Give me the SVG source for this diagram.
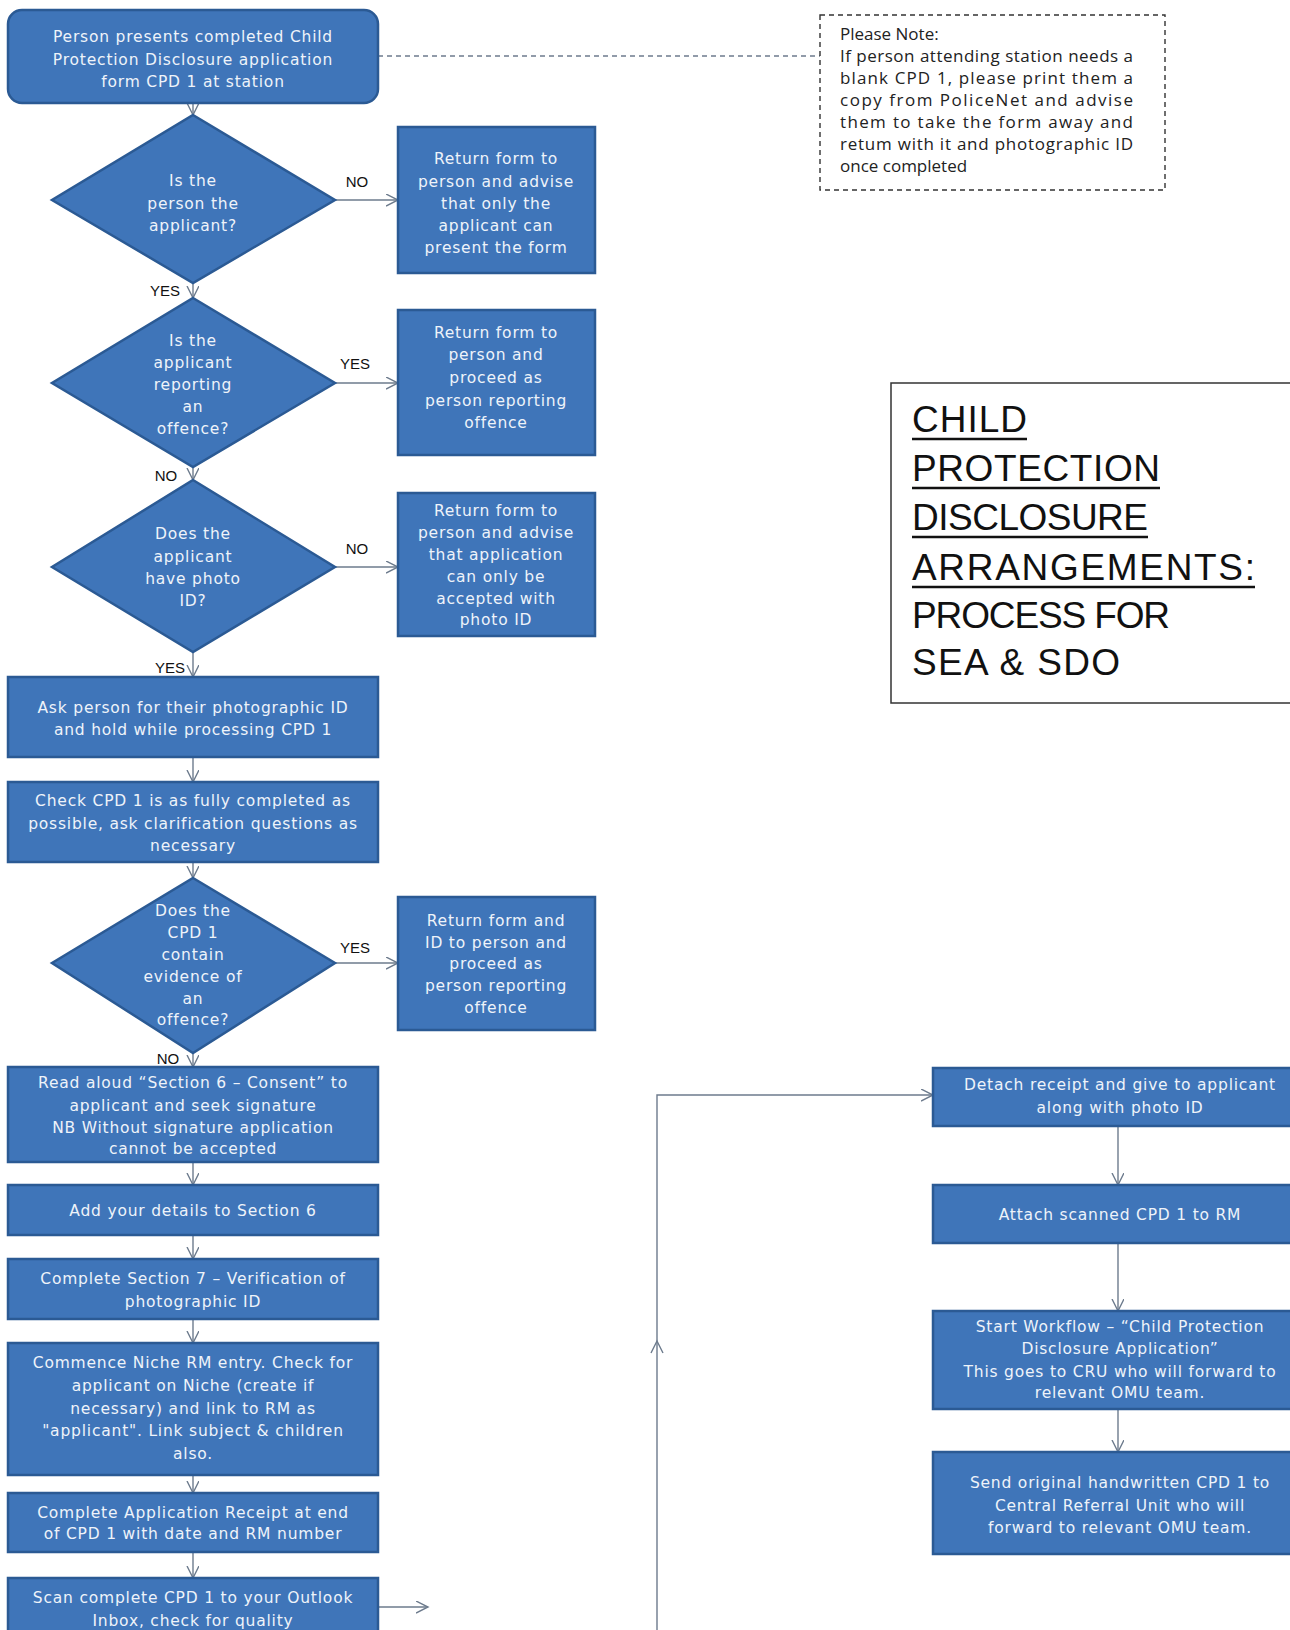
<svg xmlns="http://www.w3.org/2000/svg" width="1290" height="1630" viewBox="0 0 1290 1630">
<defs>
<style>
.box{fill:#3f75b9;stroke:#2b5a94;stroke-width:2.5}
.bt{font-family:"DejaVu Sans","Liberation Sans",sans-serif;font-size:15.5px;letter-spacing:0.8px;fill:#eef3fa;text-anchor:middle}
.lbl{font-family:"Liberation Sans",Arial,sans-serif;font-size:15px;fill:#111;text-anchor:middle}
.con{fill:none;stroke:#6d7b8d;stroke-width:1.4}
.note{font-family:"Open Sans","Liberation Sans",sans-serif;font-size:17px;fill:#222}
.title{font-family:"Liberation Sans",Arial,sans-serif;font-size:37px;fill:#111}
.ul{stroke:#111;stroke-width:2.5}
</style>
<marker id="arr" markerUnits="userSpaceOnUse" markerWidth="14" markerHeight="14" refX="12" refY="6" orient="auto">
<path d="M0,0 L12,6 L0,12" fill="none" stroke="#6d7b8d" stroke-width="1.4"/>
</marker>
</defs>
<rect width="1290" height="1630" fill="#ffffff"/>

<g id="connectors">
<line class="con" x1="378" y1="56" x2="820" y2="56" stroke-dasharray="5,4" stroke="#333"/>
<line class="con" x1="193" y1="103" x2="193" y2="115" marker-end="url(#arr)"/>
<line class="con" x1="193" y1="283" x2="193" y2="298" marker-end="url(#arr)"/>
<line class="con" x1="193" y1="467" x2="193" y2="480" marker-end="url(#arr)"/>
<line class="con" x1="193" y1="652" x2="193" y2="677" marker-end="url(#arr)"/>
<line class="con" x1="193" y1="757" x2="193" y2="782" marker-end="url(#arr)"/>
<line class="con" x1="193" y1="862" x2="193" y2="878" marker-end="url(#arr)"/>
<line class="con" x1="193" y1="1053" x2="193" y2="1067" marker-end="url(#arr)"/>
<line class="con" x1="193" y1="1162" x2="193" y2="1185" marker-end="url(#arr)"/>
<line class="con" x1="193" y1="1235" x2="193" y2="1259" marker-end="url(#arr)"/>
<line class="con" x1="193" y1="1319" x2="193" y2="1343" marker-end="url(#arr)"/>
<line class="con" x1="193" y1="1475" x2="193" y2="1493" marker-end="url(#arr)"/>
<line class="con" x1="193" y1="1552" x2="193" y2="1578" marker-end="url(#arr)"/>
<line class="con" x1="335" y1="200" x2="398" y2="200" marker-end="url(#arr)"/>
<line class="con" x1="335" y1="383" x2="398" y2="383" marker-end="url(#arr)"/>
<line class="con" x1="335" y1="567" x2="398" y2="567" marker-end="url(#arr)"/>
<line class="con" x1="335" y1="963" x2="398" y2="963" marker-end="url(#arr)"/>
<line class="con" x1="378" y1="1607" x2="428" y2="1607" marker-end="url(#arr)"/>
<polyline class="con" points="657,1630 657,1095 933,1095" marker-end="url(#arr)"/>
<path class="con" d="M651,1353 L657,1341 L663,1353"/>
<line class="con" x1="1118" y1="1126" x2="1118" y2="1185" marker-end="url(#arr)"/>
<line class="con" x1="1118" y1="1243" x2="1118" y2="1311" marker-end="url(#arr)"/>
<line class="con" x1="1118" y1="1409" x2="1118" y2="1452" marker-end="url(#arr)"/>
<text class="lbl" x="357" y="187">NO</text>
<text class="lbl" x="355" y="369">YES</text>
<text class="lbl" x="357" y="554">NO</text>
<text class="lbl" x="355" y="953">YES</text>
<text class="lbl" x="165" y="296">YES</text>
<text class="lbl" x="166" y="481">NO</text>
<text class="lbl" x="170" y="673">YES</text>
<text class="lbl" x="168" y="1064">NO</text>
</g>

<g id="start">
<rect class="box" x="8" y="10" width="370" height="93" rx="14"/>
<text class="bt" x="193" y="42">Person presents completed Child</text>
<text class="bt" x="193" y="65">Protection Disclosure application</text>
<text class="bt" x="193" y="87">form CPD 1 at station</text>
</g>

<g id="note">
<rect x="820" y="15" width="345" height="175" fill="none" stroke="#333" stroke-width="1.4" stroke-dasharray="5,4"/>
<text class="note" x="840" y="40">Please Note:</text>
<text class="note" x="840" y="62" textLength="293" lengthAdjust="spacing">If person attending station needs a</text>
<text class="note" x="840" y="84" textLength="293" lengthAdjust="spacing">blank CPD 1, please print them a</text>
<text class="note" x="840" y="106" textLength="293" lengthAdjust="spacing">copy from PoliceNet and advise</text>
<text class="note" x="840" y="128" textLength="293" lengthAdjust="spacing">them to take the form away and</text>
<text class="note" x="840" y="150" textLength="293" lengthAdjust="spacing">retum with it and photographic ID</text>
<text class="note" x="840" y="172">once completed</text>
</g>

<g id="d1">
<polygon class="box" points="193,115 335,200 193,283 52,200"/>
<text class="bt" x="193" y="186">Is the</text>
<text class="bt" x="193" y="209">person the</text>
<text class="bt" x="193" y="231">applicant?</text>
</g>

<g id="r1">
<rect class="box" x="398" y="127" width="197" height="146"/>
<text class="bt" x="496" y="164">Return form to</text>
<text class="bt" x="496" y="187">person and advise</text>
<text class="bt" x="496" y="209">that only the</text>
<text class="bt" x="496" y="231">applicant can</text>
<text class="bt" x="496" y="253">present the form</text>
</g>

<g id="d2">
<polygon class="box" points="193,298 335,383 193,467 52,383"/>
<text class="bt" x="193" y="346">Is the</text>
<text class="bt" x="193" y="368">applicant</text>
<text class="bt" x="193" y="390">reporting</text>
<text class="bt" x="193" y="412">an</text>
<text class="bt" x="193" y="434">offence?</text>
</g>

<g id="r2">
<rect class="box" x="398" y="310" width="197" height="145"/>
<text class="bt" x="496" y="338">Return form to</text>
<text class="bt" x="496" y="360">person and</text>
<text class="bt" x="496" y="383">proceed as</text>
<text class="bt" x="496" y="406">person reporting</text>
<text class="bt" x="496" y="428">offence</text>
</g>

<g id="d3">
<polygon class="box" points="193,480 335,567 193,652 52,567"/>
<text class="bt" x="193" y="539">Does the</text>
<text class="bt" x="193" y="562">applicant</text>
<text class="bt" x="193" y="584">have photo</text>
<text class="bt" x="193" y="606">ID?</text>
</g>

<g id="r3">
<rect class="box" x="398" y="493" width="197" height="143"/>
<text class="bt" x="496" y="516">Return form to</text>
<text class="bt" x="496" y="538">person and advise</text>
<text class="bt" x="496" y="560">that application</text>
<text class="bt" x="496" y="582">can only be</text>
<text class="bt" x="496" y="604">accepted with</text>
<text class="bt" x="496" y="625">photo ID</text>
</g>

<g id="ask">
<rect class="box" x="8" y="677" width="370" height="80"/>
<text class="bt" x="193" y="713">Ask person for their photographic ID</text>
<text class="bt" x="193" y="735">and hold while processing CPD 1</text>
</g>

<g id="check">
<rect class="box" x="8" y="782" width="370" height="80"/>
<text class="bt" x="193" y="806">Check CPD 1 is as fully completed as</text>
<text class="bt" x="193" y="829">possible, ask clarification questions as</text>
<text class="bt" x="193" y="851">necessary</text>
</g>

<g id="d4">
<polygon class="box" points="193,878 335,963 193,1053 52,963"/>
<text class="bt" x="193" y="916">Does the</text>
<text class="bt" x="193" y="938">CPD 1</text>
<text class="bt" x="193" y="960">contain</text>
<text class="bt" x="193" y="982">evidence of</text>
<text class="bt" x="193" y="1004">an</text>
<text class="bt" x="193" y="1025">offence?</text>
</g>

<g id="r4">
<rect class="box" x="398" y="897" width="197" height="133"/>
<text class="bt" x="496" y="926">Return form and</text>
<text class="bt" x="496" y="948">ID to person and</text>
<text class="bt" x="496" y="969">proceed as</text>
<text class="bt" x="496" y="991">person reporting</text>
<text class="bt" x="496" y="1013">offence</text>
</g>

<g id="read">
<rect class="box" x="8" y="1067" width="370" height="95"/>
<text class="bt" x="193" y="1088">Read aloud “Section 6 – Consent” to</text>
<text class="bt" x="193" y="1111">applicant and seek signature</text>
<text class="bt" x="193" y="1133">NB Without signature application</text>
<text class="bt" x="193" y="1154">cannot be accepted</text>
</g>

<g id="add">
<rect class="box" x="8" y="1185" width="370" height="50"/>
<text class="bt" x="193" y="1216">Add your details to Section 6</text>
</g>

<g id="sec7">
<rect class="box" x="8" y="1259" width="370" height="60"/>
<text class="bt" x="193" y="1284">Complete Section 7 – Verification of</text>
<text class="bt" x="193" y="1307">photographic ID</text>
</g>

<g id="niche">
<rect class="box" x="8" y="1343" width="370" height="132"/>
<text class="bt" x="193" y="1368">Commence Niche RM entry. Check for</text>
<text class="bt" x="193" y="1391">applicant on Niche (create if</text>
<text class="bt" x="193" y="1414">necessary) and link to RM as</text>
<text class="bt" x="193" y="1436">"applicant".  Link subject &amp; children</text>
<text class="bt" x="193" y="1459">also.</text>
</g>

<g id="receipt">
<rect class="box" x="8" y="1493" width="370" height="59"/>
<text class="bt" x="193" y="1518">Complete Application Receipt at end</text>
<text class="bt" x="193" y="1539">of CPD 1  with date and RM number</text>
</g>

<g id="scan">
<rect class="box" x="8" y="1578" width="370" height="60"/>
<text class="bt" x="193" y="1603">Scan complete CPD 1 to your Outlook</text>
<text class="bt" x="193" y="1626">Inbox, check  for  quality</text>
</g>

<g id="title">
<rect x="891" y="383" width="420" height="320" fill="#ffffff" stroke="#333" stroke-width="1.5"/>
<text class="title" x="912" y="432" textLength="115" lengthAdjust="spacing">CHILD</text>
<line class="ul" x1="912" y1="439" x2="1027" y2="439"/>
<text class="title" x="912" y="481" textLength="248" lengthAdjust="spacing">PROTECTION</text>
<line class="ul" x1="912" y1="488" x2="1160" y2="488"/>
<text class="title" x="912" y="530" textLength="236" lengthAdjust="spacing">DISCLOSURE</text>
<line class="ul" x1="912" y1="537" x2="1148" y2="537"/>
<text class="title" x="912" y="580" textLength="343" lengthAdjust="spacing">ARRANGEMENTS:</text>
<line class="ul" x1="912" y1="587" x2="1255" y2="587"/>
<text class="title" x="912" y="628" textLength="258" lengthAdjust="spacing">PROCESS FOR</text>
<text class="title" x="912" y="675" textLength="208" lengthAdjust="spacing">SEA &amp; SDO</text>
</g>

<g id="detach">
<rect class="box" x="933" y="1068" width="380" height="58"/>
<text class="bt" x="1120" y="1090">Detach receipt and give to applicant</text>
<text class="bt" x="1120" y="1113">along with photo ID</text>
</g>

<g id="attach">
<rect class="box" x="933" y="1185" width="380" height="58"/>
<text class="bt" x="1120" y="1220">Attach scanned CPD 1 to RM</text>
</g>

<g id="workflow">
<rect class="box" x="933" y="1311" width="380" height="98"/>
<text class="bt" x="1120" y="1332">Start Workflow – “Child Protection</text>
<text class="bt" x="1120" y="1354">Disclosure Application”</text>
<text class="bt" x="1120" y="1377">This goes to CRU who will forward to</text>
<text class="bt" x="1120" y="1398">relevant OMU team.</text>
</g>

<g id="send">
<rect class="box" x="933" y="1452" width="380" height="102"/>
<text class="bt" x="1120" y="1488">Send original  handwritten CPD 1 to</text>
<text class="bt" x="1120" y="1511">Central Referral Unit who will</text>
<text class="bt" x="1120" y="1533">forward to relevant OMU team.</text>
</g>
</svg>
